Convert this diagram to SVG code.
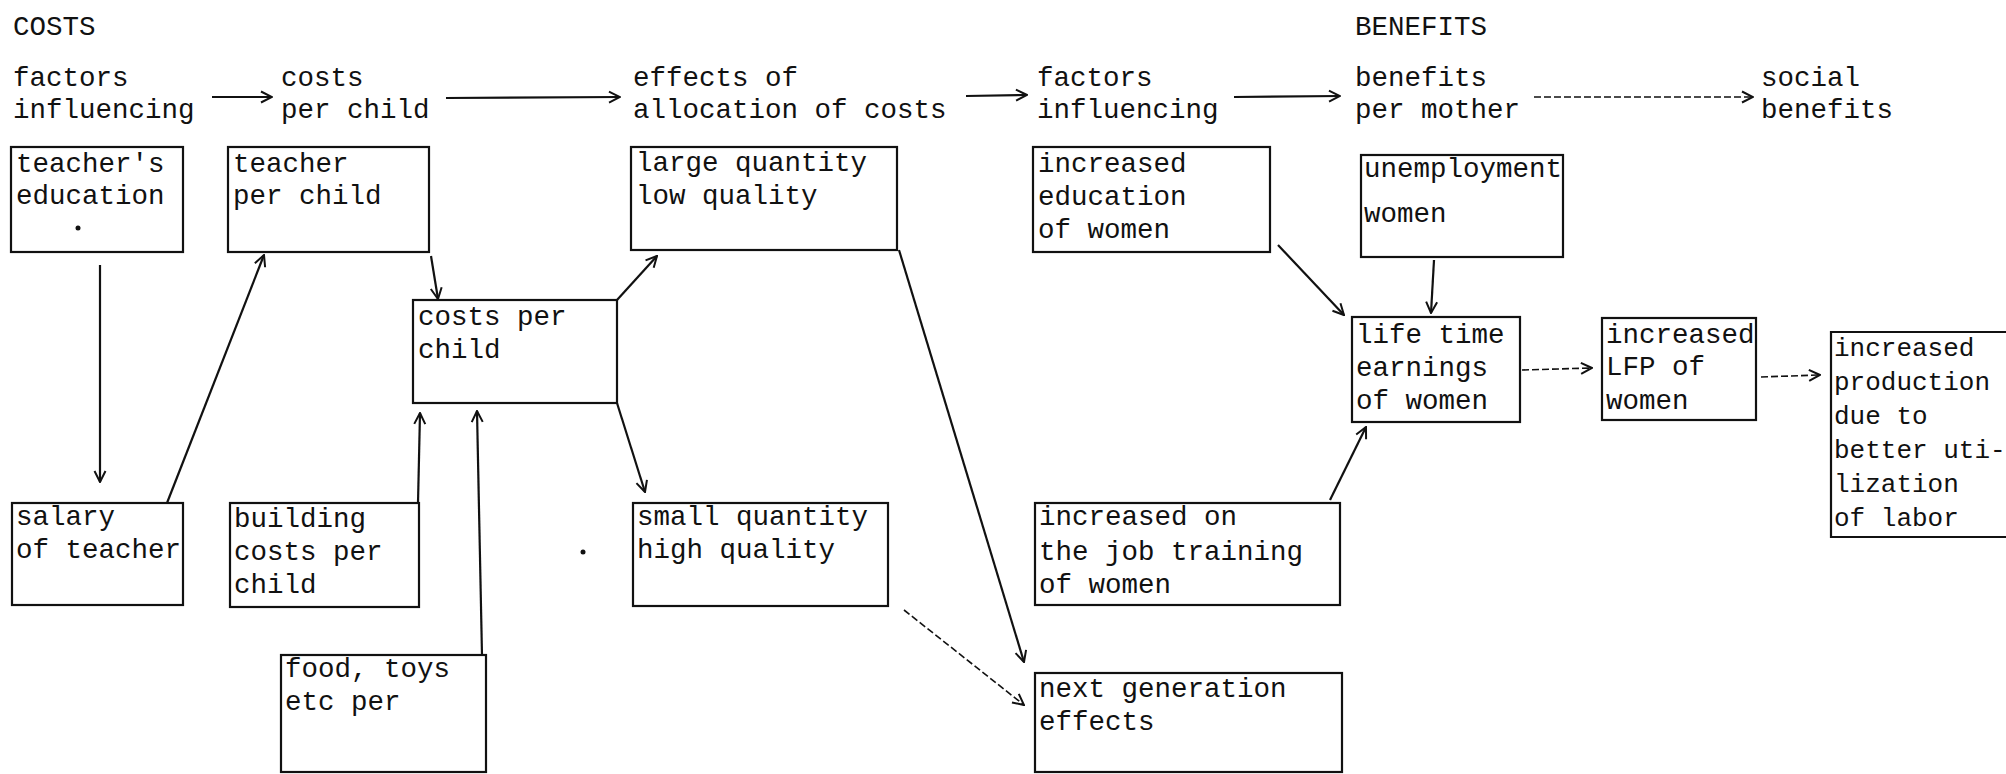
<svg xmlns="http://www.w3.org/2000/svg" width="2006" height="774" viewBox="0 0 2006 774">
<style>
  text { font-family: "Liberation Mono", "DejaVu Sans Mono", monospace; font-size: 27.5px; fill: #111; }
  .box { fill: none; stroke: #111; stroke-width: 2.2; }
  .c { fill: none; stroke: #111; stroke-width: 2.2; marker-end: url(#ah); }
  .thin { stroke-width: 1.6; stroke-dasharray: 7 3; }
  .prod text { font-size: 26px; }
</style>
<defs>
  <marker id="ah" viewBox="0 0 14 14" refX="13" refY="7" markerWidth="14" markerHeight="14" markerUnits="userSpaceOnUse" orient="auto">
    <path d="M2,1.5 L13,7 L2,12.5" fill="none" stroke="#111" stroke-width="2"/>
  </marker>
</defs>
<rect width="2006" height="774" fill="#fff"/>

<g id="headers">
  <text x="13" y="35">COSTS</text>
  <text x="1355" y="35">BENEFITS</text>
  <text x="13" y="86">factors</text><text x="13" y="118">influencing</text>
  <text x="281" y="86">costs</text><text x="281" y="118">per child</text>
  <text x="633" y="86">effects of</text><text x="633" y="118">allocation of costs</text>
  <text x="1037" y="86">factors</text><text x="1037" y="118">influencing</text>
  <text x="1355" y="86">benefits</text><text x="1355" y="118">per mother</text>
  <text x="1761" y="86">social</text><text x="1761" y="118">benefits</text>
</g>

<g id="teachers-education">
  <rect class="box" x="11" y="147" width="172" height="105"/>
  <text x="16" y="172">teacher's</text><text x="16" y="204">education</text>
  <circle cx="78" cy="228" r="2.5" fill="#111"/>
</g>
<g id="teacher-per-child">
  <rect class="box" x="228" y="147" width="201" height="105"/>
  <text x="233" y="172">teacher</text><text x="233" y="204">per child</text>
</g>
<g id="large-quantity">
  <rect class="box" x="631" y="147" width="266" height="103"/>
  <text x="636" y="171">large quantity</text><text x="636" y="204">low quality</text>
</g>
<g id="increased-education">
  <rect class="box" x="1033" y="147" width="237" height="105"/>
  <text x="1038" y="172">increased</text><text x="1038" y="205">education</text><text x="1038" y="238">of women</text>
</g>
<g id="unemployment">
  <rect class="box" x="1361" y="155" width="202" height="102"/>
  <text x="1364" y="177">unemployment</text><text x="1364" y="222">women</text>
</g>
<g id="costs-per-child">
  <rect class="box" x="413" y="300" width="204" height="103"/>
  <text x="418" y="325">costs per</text><text x="418" y="358">child</text>
</g>
<g id="salary">
  <rect class="box" x="12" y="503" width="171" height="102"/>
  <text x="16" y="525">salary</text><text x="16" y="558">of teacher</text>
</g>
<g id="building">
  <rect class="box" x="230" y="503" width="189" height="104"/>
  <text x="234" y="527">building</text><text x="234" y="560">costs per</text><text x="234" y="593">child</text>
</g>
<g id="small-quantity">
  <rect class="box" x="633" y="503" width="255" height="103"/>
  <text x="637" y="525">small quantity</text><text x="637" y="558">high quality</text>
</g>
<g id="job-training">
  <rect class="box" x="1035" y="503" width="305" height="102"/>
  <text x="1039" y="525">increased on</text><text x="1039" y="560">the job training</text><text x="1039" y="593">of women</text>
</g>
<g id="food-toys">
  <rect class="box" x="281" y="655" width="205" height="117"/>
  <text x="285" y="677">food, toys</text><text x="285" y="710">etc per</text>
</g>
<g id="next-generation">
  <rect class="box" x="1035" y="673" width="307" height="99"/>
  <text x="1039" y="697">next generation</text><text x="1039" y="730">effects</text>
</g>
<g id="life-time-earnings">
  <rect class="box" x="1352" y="317" width="168" height="105"/>
  <text x="1356" y="343">life time</text><text x="1356" y="376">earnings</text><text x="1356" y="409">of women</text>
</g>
<g id="increased-lfp">
  <rect class="box" x="1602" y="318" width="154" height="102"/>
  <text x="1606" y="343">increased</text><text x="1606" y="375">LFP of</text><text x="1606" y="409">women</text>
</g>
<g id="increased-production" class="prod">
  <path class="box" d="M2010,332 L1831,332 L1831,537 L2010,537"/>
  <text x="1834" y="356">increased</text><text x="1834" y="390">production</text><text x="1834" y="424">due to</text>
  <text x="1834" y="458">better uti-</text><text x="1834" y="492">lization</text><text x="1834" y="526">of labor</text>
</g>
<circle cx="583" cy="552" r="2.5" fill="#111"/>

<g id="connectors">
  <path class="c" d="M212,97 L272,97"/>
  <path class="c" d="M446,98 L620,97"/>
  <path class="c" d="M966,96 L1027,95"/>
  <path class="c" d="M1234,97 L1340,96"/>
  <path class="c thin" d="M1534,97 L1753,97"/>
  <path class="c" d="M100,265 L100,482"/>
  <path class="c" d="M167,503 L264,255"/>
  <path class="c" d="M431,256 L438,299"/>
  <path class="c" d="M418,503 L420,413"/>
  <path class="c" d="M482,655 L477,411"/>
  <path class="c" d="M617,300 L657,256"/>
  <path class="c" d="M617,403 L645,492"/>
  <path class="c" d="M899,250 L1024,662"/>
  <path class="c thin" d="M904,610 L1024,705"/>
  <path class="c" d="M1278,245 L1344,315"/>
  <path class="c" d="M1434,260 L1431,313"/>
  <path class="c" d="M1330,500 L1366,427"/>
  <path class="c thin" d="M1522,370 L1592,368"/>
  <path class="c thin" d="M1761,377 L1820,375"/>
</g>
</svg>
